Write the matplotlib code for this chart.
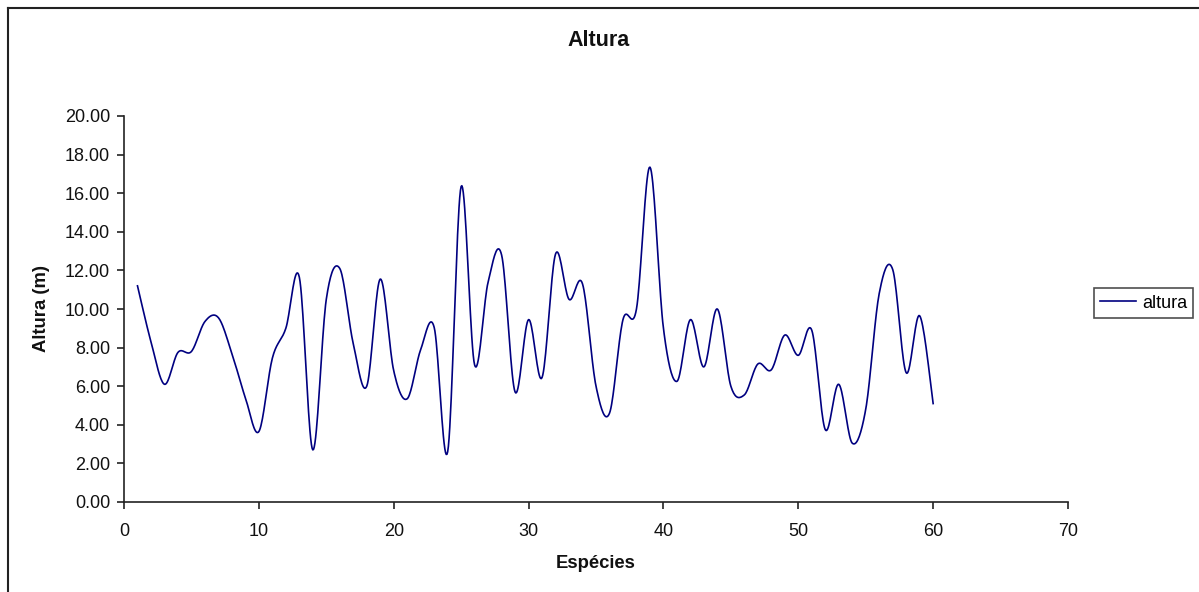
import numpy as np
import matplotlib
matplotlib.use("Agg")
import matplotlib.pyplot as plt
from matplotlib.lines import Line2D

plt.rcParams['font.family'] = ['Liberation Sans', 'DejaVu Sans']

# data
especies = list(range(1, 61))
altura = [11.2, 8.3, 6.1, 7.75, 7.8, 9.35, 9.55, 7.7, 5.4, 3.65,
          7.45, 9.0, 11.65, 2.7, 10.5, 12.1, 8.2, 6.0, 11.55, 6.8,
          5.35, 7.9, 9.05, 2.6, 16.35, 7.1, 11.4, 12.8, 5.7, 9.45,
          6.45, 12.85, 10.5, 11.3, 6.0, 4.6, 9.45, 10.0, 17.35, 9.0,
          6.25, 9.45, 7.0, 10.0, 6.0, 5.55, 7.15, 6.85, 8.65, 7.6,
          8.9, 3.75, 6.1, 3.05, 4.8, 10.8, 12.05, 6.7, 9.65, 5.1]

x_ticks = [0, 10, 20, 30, 40, 50, 60, 70]
y_ticks = [0, 2, 4, 6, 8, 10, 12, 14, 16, 18, 20]


def smooth(x, y, n=20):
    """Excel-like smoothed line: cubic Bezier through each point."""
    x = np.asarray(x, float)
    y = np.asarray(y, float)
    px = np.concatenate([[x[0]], x, [x[-1]]])
    py = np.concatenate([[y[0]], y, [y[-1]]])
    t = np.linspace(0, 1, n)[:, None]
    xs, ys = [], []
    for i in range(1, len(px) - 2):
        p0 = np.array([px[i], py[i]])
        p3 = np.array([px[i + 1], py[i + 1]])
        c1 = p0 + (np.array([px[i + 1], py[i + 1]]) - np.array([px[i - 1], py[i - 1]])) / 6
        c2 = p3 - (np.array([px[i + 2], py[i + 2]]) - np.array([px[i], py[i]])) / 6
        pts = ((1 - t) ** 3) * p0 + 3 * ((1 - t) ** 2) * t * c1 + 3 * (1 - t) * t ** 2 * c2 + t ** 3 * p3
        xs.append(pts[:, 0])
        ys.append(pts[:, 1])
    return np.concatenate(xs), np.concatenate(ys)


fig = plt.figure(figsize=(11.99, 5.92), dpi=100)
W, H = 1199, 592
ax = fig.add_axes([124 / W, 1 - 502 / H, (1068 - 124) / W, (502 - 116) / H])

sx, sy = smooth(especies, altura)
ax.plot(sx, sy, color='#000080', lw=1.2, label='altura')

ax.set_xlim(0, 70)
ax.set_ylim(0, 20)
ax.set_xticks(x_ticks)
ax.set_yticks(y_ticks)
ax.set_yticklabels([f"{v:.2f}" for v in y_ticks])
for s in ['top', 'right']:
    ax.spines[s].set_visible(False)
for s in ['left', 'bottom']:
    ax.spines[s].set_color('#222222')
    ax.spines[s].set_linewidth(1.2)
ax.tick_params(axis='both', direction='out', length=5, width=1.2, color='#222222',
               labelsize=13, labelcolor='#111111')
ax.tick_params(axis='x', pad=10)
ax.tick_params(axis='y', pad=5)

fig.text(599 / W, 1 - 40 / H, "Altura", ha='center', va='center',
         fontsize=15.5, fontweight='bold', color='#111111')
fig.text(596 / W, 1 - 563 / H, "Espécies", ha='center', va='center',
         fontsize=13.3, fontweight='bold', color='#111111')
fig.text(42 / W, 1 - 309 / H, "Altura (m)", ha='center', va='center',
         rotation=90, fontsize=13.3, fontweight='bold', color='#111111')

leg = fig.legend(loc='center left', bbox_to_anchor=(1094 / W, 1 - 303 / H),
                 fontsize=13, frameon=True, fancybox=False, handlelength=2.0,
                 handletextpad=0.3, borderpad=0.35, borderaxespad=0)
leg.get_frame().set_edgecolor('#222222')
leg.get_frame().set_linewidth(1.2)

# chart area border (only left and top fall inside the picture)
fig.add_artist(Line2D([7.5 / W, 7.5 / W], [0, 1 - 7.5 / H], transform=fig.transFigure,
                      color='#222222', lw=1.5))
fig.add_artist(Line2D([7.5 / W, 1], [1 - 7.5 / H, 1 - 7.5 / H], transform=fig.transFigure,
                      color='#222222', lw=1.5))

fig.savefig("out.png", dpi=100)
